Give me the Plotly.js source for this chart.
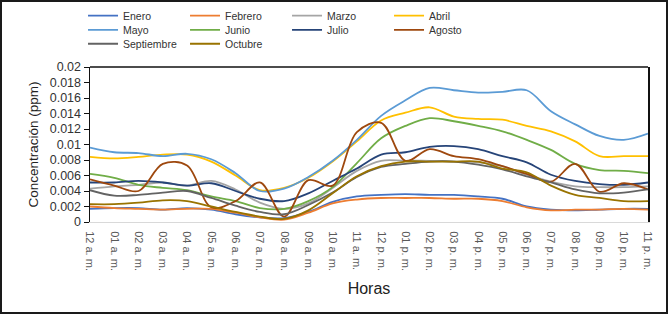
<!DOCTYPE html>
<html>
<head>
<meta charset="utf-8">
<script src="https://cdn.plot.ly/plotly-3.0.1.min.js"></script>
<style>
  html, body { margin: 0; padding: 0; background: #fff; }
  #wrap { position: relative; width: 668px; height: 314px; }
  #chart { width: 668px; height: 314px; }
  #frame { position: absolute; left: 0; top: 0; width: 664px; height: 310px; border: 2px solid #1a1a1a; pointer-events: none; }
</style>
</head>
<body>
<div id="wrap"><div id="chart"></div><div id="frame"></div></div>
<script>
const horas = ["12 a. m.", "01 a. m.", "02 a. m.", "03 a. m.", "04 a. m.", "05 a. m.", "06 a. m.", "07 a. m.", "08 a. m.", "09 a. m.", "10 a. m.", "11 a. m.",
               "12 p. m.", "01 p. m.", "02 p. m.", "03 p. m.", "04 p. m.", "05 p. m.", "06 p. m.", "07 p. m.", "08 p. m.", "09 p. m.", "10 p. m.", "11 p. m."];

const enero      = [0.0017, 0.0018, 0.0018, 0.0016, 0.0018, 0.0016, 0.0010, 0.0006, 0.0005, 0.0013, 0.0026, 0.0033, 0.0035, 0.0036, 0.0035, 0.0035, 0.0033, 0.0030, 0.0020, 0.0016, 0.0015, 0.0016, 0.0017, 0.0017];
const febrero    = [0.0020, 0.0018, 0.0017, 0.0016, 0.0017, 0.0017, 0.0012, 0.0006, 0.0003, 0.0012, 0.0024, 0.0029, 0.0031, 0.0031, 0.0031, 0.0030, 0.0030, 0.0027, 0.0019, 0.0015, 0.0016, 0.0016, 0.0017, 0.0016];
const marzo      = [0.0043, 0.0046, 0.0048, 0.0051, 0.0047, 0.0053, 0.0042, 0.0025, 0.0017, 0.0024, 0.0044, 0.0066, 0.0079, 0.0079, 0.0079, 0.0078, 0.0077, 0.0072, 0.0061, 0.0052, 0.0046, 0.0045, 0.0045, 0.0046];
const abril      = [0.0084, 0.0082, 0.0084, 0.0087, 0.0087, 0.0078, 0.0060, 0.0041, 0.0044, 0.0057, 0.0078, 0.0104, 0.0131, 0.0141, 0.0148, 0.0136, 0.0133, 0.0132, 0.0124, 0.0117, 0.0104, 0.0085, 0.0085, 0.0085];
const mayo       = [0.0096, 0.0090, 0.0089, 0.0085, 0.0088, 0.0081, 0.0063, 0.0040, 0.0043, 0.0058, 0.0079, 0.0106, 0.0137, 0.0157, 0.0173, 0.0170, 0.0167, 0.0168, 0.0170, 0.0143, 0.0126, 0.0111, 0.0106, 0.0114];
const junio      = [0.0062, 0.0057, 0.0048, 0.0044, 0.0041, 0.0033, 0.0027, 0.0018, 0.0017, 0.0027, 0.0045, 0.0076, 0.0108, 0.0124, 0.0134, 0.0130, 0.0124, 0.0117, 0.0106, 0.0093, 0.0075, 0.0067, 0.0066, 0.0063];
const julio      = [0.0051, 0.0051, 0.0053, 0.0051, 0.0047, 0.0050, 0.0040, 0.0030, 0.0027, 0.0037, 0.0053, 0.0069, 0.0087, 0.0090, 0.0097, 0.0098, 0.0094, 0.0085, 0.0077, 0.0061, 0.0053, 0.0049, 0.0048, 0.0051];
const agosto     = [0.0055, 0.0047, 0.0040, 0.0075, 0.0073, 0.0019, 0.0027, 0.0051, 0.0007, 0.0054, 0.0047, 0.0116, 0.0128, 0.0079, 0.0094, 0.0085, 0.0081, 0.0072, 0.0062, 0.0052, 0.0075, 0.0039, 0.0050, 0.0042];
const septiembre = [0.0041, 0.0034, 0.0035, 0.0038, 0.0040, 0.0031, 0.0021, 0.0013, 0.0010, 0.0022, 0.0038, 0.0058, 0.0071, 0.0075, 0.0078, 0.0078, 0.0074, 0.0068, 0.0059, 0.0051, 0.0042, 0.0037, 0.0038, 0.0042];
const octubre    = [0.0023, 0.0023, 0.0025, 0.0028, 0.0027, 0.0020, 0.0013, 0.0007, 0.0004, 0.0015, 0.0037, 0.0059, 0.0072, 0.0078, 0.0078, 0.0078, 0.0078, 0.0069, 0.0064, 0.0047, 0.0035, 0.0031, 0.0027, 0.0027];

const series = [
  {name: "Enero", y: enero, color: "#4472C4", legend: "legend"},
  {name: "Febrero", y: febrero, color: "#ED7D31", legend: "legend"},
  {name: "Marzo", y: marzo, color: "#A5A5A5", legend: "legend"},
  {name: "Abril", y: abril, color: "#FFC000", legend: "legend"},
  {name: "Mayo", y: mayo, color: "#5B9BD5", legend: "legend2"},
  {name: "Junio", y: junio, color: "#70AD47", legend: "legend2"},
  {name: "Julio", y: julio, color: "#264478", legend: "legend2"},
  {name: "Agosto", y: agosto, color: "#9E480E", legend: "legend2"},
  {name: "Septiembre", y: septiembre, color: "#636363", legend: "legend3"},
  {name: "Octubre", y: octubre, color: "#997300", legend: "legend3"}
];

const traces = series.map(s => ({
  type: "scatter", mode: "lines", name: s.name, x: horas, y: s.y,
  legend: s.legend,
  line: {color: s.color, width: 1.8, shape: "spline", smoothing: 1}
}));

const FONT = "Liberation Sans, Arial, sans-serif";
const legendBase = {
  orientation: "h", xanchor: "left", yanchor: "middle", x: -0.0125,
  entrywidth: 57, entrywidthmode: "pixels",
  font: {family: FONT, size: 10.5, color: "#333"},
  bgcolor: "rgba(0,0,0,0)", borderwidth: 0, itemwidth: 30, tracegroupgap: 0
};

const layout = {
  width: 668, height: 314,
  margin: {l: 90, r: 20, t: 67, b: 92, autoexpand: false},
  paper_bgcolor: "#fff", plot_bgcolor: "#fff",
  font: {family: FONT, color: "#404040"},
  showlegend: true,
  legend: Object.assign({}, legendBase, {y: 1.331}),
  legend2: Object.assign({}, legendBase, {y: 1.239}),
  legend3: Object.assign({}, legendBase, {y: 1.150}),
  xaxis: {
    type: "category", tickangle: 90, showgrid: false, zeroline: false,
    showline: true, linecolor: "#d9d9d9", linewidth: 1,
    ticks: "", ticklabelstandoff: 6, tickfont: {family: FONT, size: 11, color: "#595959"},
    title: {text: "Horas", font: {family: FONT, size: 16, color: "#222"}, standoff: 12},
    automargin: false
  },
  yaxis: {
    range: [0, 0.02], dtick: 0.002, tick0: 0, showgrid: false, zeroline: false,
    showline: true, linecolor: "#111", linewidth: 1.5, mirror: true,
    ticks: "outside", ticklen: 5, tickcolor: "#111", tickwidth: 1,
    tickfont: {family: FONT, size: 12.5, color: "#333"},
    title: {text: "Concentración (ppm)", font: {family: FONT, size: 13.5, color: "#222"}, standoff: 8},
    automargin: false
  },
  shapes: [
    {type: "line", xref: "paper", yref: "paper", x0: 0, x1: 1, y0: 1, y1: 1, line: {color: "#111", width: 1.5}}
  ]
};

Plotly.newPlot("chart", traces, layout, {displayModeBar: false, staticPlot: true});
</script>
</body>
</html>
